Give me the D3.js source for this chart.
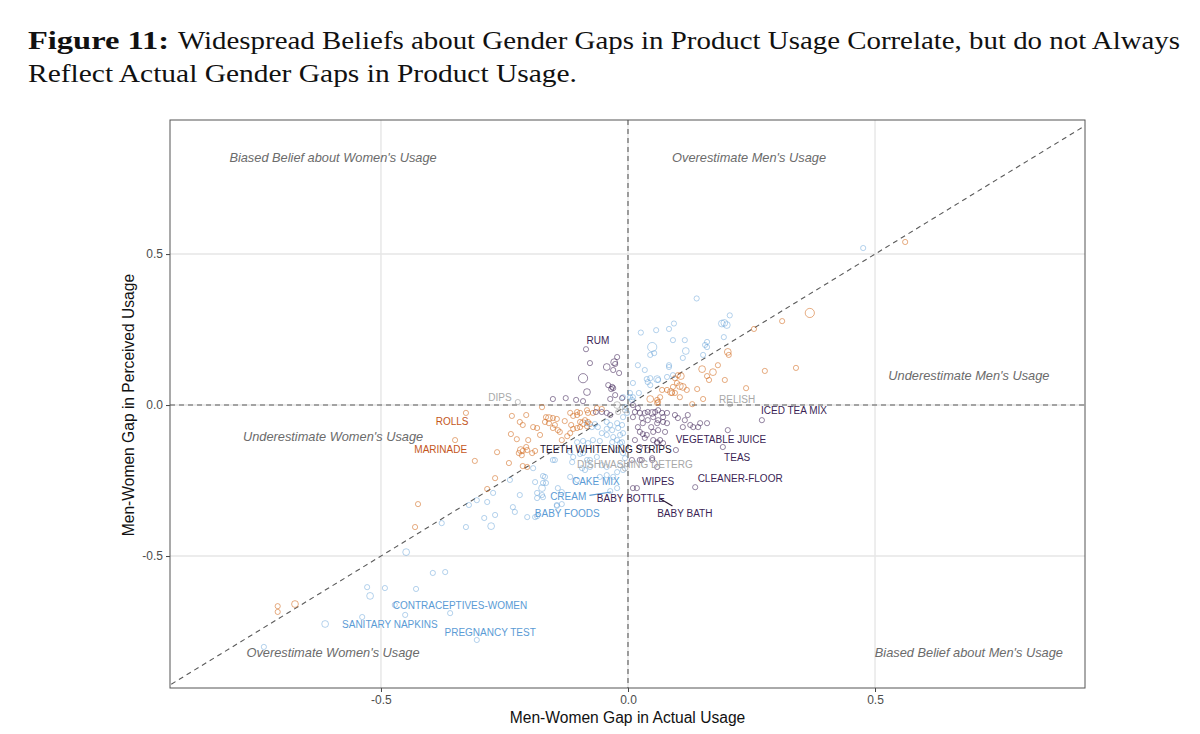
<!DOCTYPE html>
<html>
<head>
<meta charset="utf-8">
<script src="https://cdn.jsdelivr.net/npm/d3@7"></script>
<style>
  body { margin: 0; background: #fff; }
  svg { display: block; }
</style>
</head>
<body>
<div id="chart"></div>
<script>
// gap values: [actual gap, perceived gap, size class]
var orangePts = [
  [0.561,0.54,1],[0.368,0.305,3],[0.312,0.278,1],[0.255,0.252,1],[0.202,0.176,2],[0.204,0.166,1],
  [0.15,0.119,2],[0.182,0.132,1],[0.172,0.109,2],[0.16,0.096,1],[0.164,0.083,1],[0.196,0.083,1],
  [0.277,0.113,1],[0.34,0.123,1],[0.239,0.056,1],[0.14,0.053,1],[0.107,0.096,2],[0.099,0.073,1],
  [0.105,0.063,2],[0.091,0.06,1],[0.069,0.05,1],[0.087,0.043,2],[0.089,0.04,1],[0.045,0.02,2],
  [0.152,0.02,1],[0.061,0.01,1],[0.059,0.017,1],[0.065,0.026,1],[0.079,0.05,1],[0.095,0.089,1],
  [0.101,0.099,1],[0.111,0.06,2],[0.119,0.05,1],[0.095,0.04,1],[0.105,0.026,1],[0.13,0.003,1],
  [0.059,0.007,1],
  [-0.328,-0.026,1],[-0.35,-0.116,1],[-0.31,-0.185,1],[-0.265,-0.156,1],[-0.269,-0.242,1],
  [-0.285,-0.278,1],[-0.425,-0.328,1],[-0.431,-0.404,1],[-0.241,-0.192,1],[-0.235,-0.036,1],
  [-0.219,-0.056,1],[-0.213,-0.066,1],[-0.206,-0.033,1],[-0.237,-0.096,1],[-0.225,-0.113,1],
  [-0.202,-0.116,1],[-0.221,-0.159,1],[-0.217,-0.149,2],[-0.213,-0.152,1],[-0.204,-0.149,1],
  [-0.206,-0.139,1],[-0.215,-0.166,1],[-0.194,-0.159,1],[-0.188,-0.152,1],[-0.192,-0.073,1],
  [-0.184,-0.076,1],[-0.174,-0.007,1],[-0.166,-0.04,1],[-0.16,-0.043,2],[-0.152,-0.043,1],
  [-0.168,-0.056,1],[-0.16,-0.06,1],[-0.152,-0.076,1],[-0.144,-0.046,1],[-0.213,-0.202,1],
  [-0.204,-0.205,1],[-0.128,-0.053,1],[-0.117,-0.026,1],[-0.111,-0.036,1],[-0.103,-0.023,1],
  [-0.097,-0.026,1],[-0.103,-0.033,1],[-0.083,-0.017,1],[-0.081,-0.026,1],[-0.071,-0.026,1],
  [-0.063,-0.01,1],[-0.053,-0.013,1],[-0.097,-0.056,1],[-0.091,-0.06,2],[-0.087,-0.05,1],
  [-0.081,-0.056,1],[-0.083,-0.07,1],[-0.077,-0.063,1],[-0.097,-0.073,1],[-0.103,-0.076,1],
  [-0.117,-0.093,1],[-0.123,-0.103,1],[-0.134,-0.116,1],[-0.115,-0.066,1],[-0.111,-0.079,1],
  [-0.142,-0.083,1],[-0.138,-0.089,1],[-0.148,-0.066,1],[-0.178,-0.099,1],
  [-0.709,-0.666,1],[-0.709,-0.685,1],[-0.674,-0.659,2]
];
var bluePts = [
  [0.476,0.52,1],[0.139,0.353,1],[0.206,0.297,1],[0.19,0.27,2],[0.195,0.272,2],[0.2,0.265,2],
  [0.093,0.27,1],[0.026,0.24,1],[0.057,0.248,1],[0.083,0.252,1],[0.049,0.192,3],[0.053,0.172,1],
  [0.091,0.215,1],[0.115,0.215,1],[0.117,0.179,2],[0.16,0.209,1],[0.16,0.192,1],[0.152,0.166,1],
  [0.194,0.225,1],[0.02,0.132,1],[0.034,0.116,1],[0.083,0.132,1],[0.083,0.126,1],[0.038,0.086,1],
  [0.04,0.076,1],[0.059,0.086,2],[0.01,0.073,1],[0.045,0.066,1],[0.079,0.093,1],[0.022,0.04,1],
  [0.01,0.026,1],[0.045,0.166,1],[0.045,0.089,1],[0.061,0.083,1],[0.091,0.099,1],[0.111,0.156,1],
  [0.156,0.199,1],[0.004,0.04,1],[0.008,0.017,1],[-0.01,0.026,1],[0.004,0.026,1],
  [-0.006,-0.007,1],[-0.002,-0.026,1],[-0.01,-0.04,1],[-0.083,-0.06,1],[-0.073,-0.073,1],
  [-0.067,-0.063,1],[-0.061,-0.073,1],[-0.043,-0.056,1],[-0.036,-0.066,1],[-0.043,-0.079,1],
  [-0.032,-0.083,1],[-0.022,-0.06,1],[-0.02,-0.076,1],[-0.012,-0.066,1],[-0.053,-0.093,1],
  [-0.043,-0.099,1],[-0.03,-0.106,1],[-0.016,-0.099,1],[-0.01,-0.093,1],[-0.022,-0.116,1],
  [-0.032,-0.123,1],[-0.012,-0.123,1],[-0.103,-0.123,1],[-0.091,-0.119,1],[-0.081,-0.126,1],
  [-0.071,-0.116,1],[-0.057,-0.119,1],[-0.117,-0.156,1],[-0.111,-0.172,1],[-0.097,-0.162,1],
  [-0.083,-0.182,1],[-0.113,-0.189,1],[-0.093,-0.209,1],[-0.087,-0.215,1],[-0.077,-0.205,1],
  [-0.053,-0.199,1],[-0.043,-0.205,1],[-0.016,-0.199,1],[-0.022,-0.222,1],[-0.01,-0.215,1],
  [-0.057,-0.238,1],[-0.043,-0.232,1],[-0.03,-0.238,1],[-0.117,-0.238,1],[-0.103,-0.248,1],
  [-0.148,-0.182,1],[-0.142,-0.275,1],[-0.134,-0.288,1],[-0.174,-0.298,1],[-0.219,-0.298,1],
  [-0.022,-0.275,1],[-0.036,-0.285,1],[-0.144,-0.334,1],[-0.134,-0.328,1],[-0.188,-0.371,1],
  [-0.184,-0.308,1],[-0.016,-0.126,1],[-0.022,-0.149,1],[-0.01,-0.159,1],[-0.006,-0.176,1],
  [-0.091,-0.159,1],[-0.077,-0.182,1],[-0.063,-0.172,1],[-0.188,-0.255,1],[-0.172,-0.258,1],
  [-0.168,-0.238,1],[-0.184,-0.291,1],[-0.172,-0.305,1],[-0.233,-0.338,1],[-0.229,-0.354,1],
  [-0.204,-0.371,1],[-0.192,-0.209,1],[-0.172,-0.235,1],[-0.174,-0.275,2],[-0.166,-0.258,1],
  [-0.239,-0.248,1],[-0.273,-0.291,1],[-0.285,-0.321,1],[-0.306,-0.315,1],[-0.322,-0.331,1],
  [-0.291,-0.374,1],[-0.269,-0.364,1],[-0.277,-0.401,2],[-0.328,-0.404,1],[-0.377,-0.391,1],
  [-0.152,-0.182,1],[-0.184,-0.368,1],[-0.144,-0.331,1],[-0.449,-0.487,2],[-0.395,-0.556,1],
  [-0.37,-0.553,1],[-0.528,-0.603,1],[-0.492,-0.606,1],[-0.429,-0.609,1],[-0.522,-0.632,2],
  [-0.472,-0.662,1],[-0.538,-0.702,1],[-0.451,-0.695,1],[-0.36,-0.689,1],[-0.613,-0.725,2],
  [-0.306,-0.778,1],[-0.737,-0.801,1]
];
var purplePts = [
  [-0.085,0.185,1],[-0.077,0.139,1],[-0.022,0.159,1],[-0.028,0.142,2],[-0.026,0.136,1],
  [-0.043,0.126,2],[-0.03,0.116,1],[-0.018,0.106,1],[-0.091,0.089,3],[-0.04,0.066,1],
  [-0.032,0.06,1],[-0.034,0.053,1],[-0.03,0.056,1],[-0.083,0.043,2],[-0.036,0.02,1],
  [-0.026,0.033,1],[-0.152,0.02,1],[-0.126,0.023,1],[-0.105,0.017,1],[-0.091,0.013,1],
  [-0.012,0.023,1],[-0.043,-0.026,1],[-0.036,-0.033,1],[-0.053,-0.023,1],[-0.065,-0.023,1],
  [0.01,0,1],[0.02,-0.01,1],[0.014,-0.023,1],[0.024,-0.026,1],[0.01,-0.04,1],[0.028,-0.043,1],
  [0.034,-0.026,1],[0.04,-0.023,1],[0.049,-0.026,2],[0.051,-0.04,1],[0.055,-0.023,1],
  [0.061,-0.017,1],[0.069,-0.026,1],[0.071,-0.04,1],[0.079,-0.026,1],[0.061,-0.05,1],
  [0.071,-0.056,1],[0.059,-0.06,1],[0.079,-0.06,1],[0.04,-0.05,1],[0.03,-0.06,1],
  [0.047,-0.073,1],[0.02,-0.073,1],[0.024,-0.089,1],[0.03,-0.096,1],[0.038,-0.099,1],
  [0.051,-0.089,1],[0.061,-0.083,1],[0.075,-0.089,1],[0.014,-0.116,1],[0.034,-0.109,1],
  [0.051,-0.116,1],[0.059,-0.123,1],[0.065,-0.116,1],[0.071,-0.126,1],[0.059,-0.126,1],
  [0.024,-0.139,1],[0.04,-0.149,1],[0.095,-0.033,1],[0.101,-0.043,1],[0.115,-0.05,1],
  [0.121,-0.033,1],[0.126,-0.066,1],[0.132,-0.073,1],[0.146,-0.06,1],[0.16,-0.06,1],
  [0.111,-0.073,1],[0.142,-0.073,1],[0.097,-0.149,1],[0.202,-0.083,1],[0.192,-0.139,1],
  [0.271,-0.05,1],[0.136,-0.272,1],[0.01,-0.275,1],[0.018,-0.275,1],[0.008,-0.182,1],
  [0.024,-0.182,1],[0.049,-0.182,1],[0.028,-0.182,1],[0.049,-0.176,1],[0.059,-0.205,1]
];
var greyPts = [
  [-0.223,0.01,1],[-0.022,0,2],[-0.012,-0.007,1],[-0.006,-0.017,1],[-0.02,-0.023,1],
  [0.206,0.003,1],[-0.006,-0.21,1]
];

var xTicks = [-0.5, 0, 0.5];
var yTicks = [-0.5, 0, 0.5];

// product labels: [text, x, y, group]
var productLabels = [
  ["RUM", -0.061, 0.215, "purple"],
  ["DIPS", -0.259, 0.026, "grey"],
  ["RELISH", 0.221, 0.02, "grey"],
  ["ICED TEA MIX", 0.336, -0.017, "purple"],
  ["ROLLS", -0.356, -0.053, "orange"],
  ["MARINADE", -0.379, -0.146, "orange"],
  ["VEGETABLE JUICE", 0.188, -0.113, "purple"],
  ["TEETH WHITENING STRIPS", -0.045, -0.146, "dark"],
  ["TEAS", 0.221, -0.172, "purple"],
  ["DISHWASHING DETERG", 0.014, -0.195, "grey"],
  ["CLEANER-FLOOR", 0.227, -0.242, "purple"],
  ["CAKE MIX", -0.065, -0.252, "blue"],
  ["WIPES", 0.061, -0.252, "purple"],
  ["CREAM", -0.121, -0.301, "blue"],
  ["BABY BOTTLE", 0.006, -0.308, "purple"],
  ["BABY FOODS", -0.123, -0.358, "blue"],
  ["BABY BATH", 0.115, -0.358, "purple"],
  ["CONTRACEPTIVES-WOMEN", -0.34, -0.662, "blue"],
  ["SANITARY NAPKINS", -0.482, -0.728, "blue"],
  ["PREGNANCY TEST", -0.279, -0.752, "blue"]
];
// label leader segments: [x1, y1, x2, y2, group]
var leaders = [
  [-0.078, -0.299, -0.034, -0.288, "blue"],
  [0.065, -0.31, 0.09, -0.334, "dark"]
];

var quadrantNotes = [
  ["Biased Belief about Women's Usage", -0.597, 0.821],
  ["Overestimate Men's Usage", 0.245, 0.821],
  ["Underestimate Men's Usage", 0.69, 0.099],
  ["Underestimate Women's Usage", -0.597, -0.103],
  ["Overestimate Women's Usage", -0.597, -0.821],
  ["Biased Belief about Men's Usage", 0.69, -0.821]
];

var pointColor = {orange: "#d2691e", blue: "#5b9bd5", purple: "#3f2458", grey: "#9a9a9a"};
var labelColor = {orange: "#c4561c", blue: "#5b9bd5", purple: "#3b1f55", grey: "#a8a8a8", dark: "#24142f"};

var width = 1200, height = 734;
var svg = d3.select("#chart").append("svg")
    .attr("width", width)
    .attr("height", height);

// title
var title = svg.append("g")
    .attr("font-family", "'Liberation Serif', 'Times New Roman', serif")
    .attr("font-size", 25)
    .attr("fill", "#111");
title.append("text").attr("x", 28).attr("y", 49)
    .attr("font-weight", "bold")
    .attr("textLength", 141).attr("lengthAdjust", "spacingAndGlyphs")
    .text("Figure 11:");
title.append("text").attr("x", 178).attr("y", 49)
    .attr("textLength", 1002).attr("lengthAdjust", "spacingAndGlyphs")
    .text("Widespread Beliefs about Gender Gaps in Product Usage Correlate, but do not Always");
title.append("text").attr("x", 28).attr("y", 82)
    .attr("textLength", 549).attr("lengthAdjust", "spacingAndGlyphs")
    .text("Reflect Actual Gender Gaps in Product Usage.");

var pLeft = 170, pRight = 1085, pTop = 120, pBottom = 688;
var x = d3.scaleLinear().domain([-0.927, 0.925]).range([pLeft, pRight]);
var y = d3.scaleLinear().domain([-0.937, 0.944]).range([pBottom, pTop]);
var r = d3.scaleOrdinal().domain([1, 2, 3]).range([2.6, 3.4, 4.6]);

svg.append("clipPath").attr("id", "panel")
  .append("rect").attr("x", pLeft).attr("y", pTop)
    .attr("width", pRight - pLeft).attr("height", pBottom - pTop);

// grid
var grid = svg.append("g");
grid.selectAll(".gx").data(xTicks).enter().append("line")
    .attr("x1", d => x(d)).attr("x2", d => x(d))
    .attr("y1", pTop).attr("y2", pBottom)
    .attr("stroke", "#e6e6e6").attr("stroke-width", 1.4);
grid.selectAll(".gy").data(yTicks).enter().append("line")
    .attr("x1", pLeft).attr("x2", pRight)
    .attr("y1", d => y(d)).attr("y2", d => y(d))
    .attr("stroke", "#e6e6e6").attr("stroke-width", 1.4);

// reference lines
var refs = svg.append("g").attr("clip-path", "url(#panel)")
    .attr("stroke", "#5a5a5a").attr("stroke-width", 1.1)
    .attr("stroke-dasharray", "5,4").attr("fill", "none");
refs.append("line").attr("x1", x(0)).attr("x2", x(0)).attr("y1", pTop).attr("y2", pBottom);
refs.append("line").attr("x1", pLeft).attr("x2", pRight).attr("y1", y(0)).attr("y2", y(0));
refs.append("line")
    .attr("x1", x(-0.94)).attr("y1", y(-0.94))
    .attr("x2", x(0.94)).attr("y2", y(0.94));

// points
var pts = svg.append("g").attr("clip-path", "url(#panel)").attr("fill", "none");
function drawGroup(data, key, op) {
  pts.selectAll(".p-" + key).data(data).enter().append("circle")
      .attr("class", "p-" + key)
      .attr("cx", d => x(d[0]))
      .attr("cy", d => y(d[1]))
      .attr("r", d => r(d[2]))
      .attr("stroke", pointColor[key])
      .attr("stroke-opacity", op)
      .attr("stroke-width", 1);
}
drawGroup(orangePts, "orange", 0.55);
drawGroup(bluePts, "blue", 0.45);
drawGroup(purplePts, "purple", 0.55);
drawGroup(greyPts, "grey", 0.6);

// leaders and labels
svg.append("g").selectAll("line").data(leaders).enter().append("line")
    .attr("x1", d => x(d[0])).attr("y1", d => y(d[1]))
    .attr("x2", d => x(d[2])).attr("y2", d => y(d[3]))
    .attr("stroke", d => labelColor[d[4]]).attr("stroke-width", 1.2);

svg.append("g")
    .attr("font-family", "'Liberation Sans', Arial, sans-serif")
    .attr("font-size", 10)
    .attr("text-anchor", "middle")
  .selectAll("text").data(productLabels).enter().append("text")
    .attr("x", d => x(d[1]))
    .attr("y", d => y(d[2]) + 3.6)
    .attr("fill", d => labelColor[d[3]])
    .text(d => d[0]);

svg.append("g")
    .attr("font-family", "'Liberation Sans', Arial, sans-serif")
    .attr("font-size", 12.8)
    .attr("font-style", "italic")
    .attr("fill", "#6b6b6b")
    .attr("text-anchor", "middle")
  .selectAll("text").data(quadrantNotes).enter().append("text")
    .attr("x", d => x(d[1]))
    .attr("y", d => y(d[2]) + 4.5)
    .text(d => d[0]);

// axes
var fmt = d => d.toFixed(1);
var xAxis = svg.append("g").attr("transform", "translate(0," + pBottom + ")")
    .call(d3.axisBottom(x).tickValues(xTicks).tickFormat(fmt).tickSize(4).tickPadding(3));
var yAxis = svg.append("g").attr("transform", "translate(" + pLeft + ",0)")
    .call(d3.axisLeft(y).tickValues(yTicks).tickFormat(fmt).tickSize(4).tickPadding(3));
[xAxis, yAxis].forEach(function(a) {
  a.select(".domain").remove();
  a.selectAll(".tick line").attr("stroke", "#444");
  a.selectAll(".tick text")
      .attr("fill", "#4d4d4d")
      .attr("font-size", 12)
      .attr("font-family", "'Liberation Sans', Arial, sans-serif");
});

// panel border
svg.append("rect")
    .attr("x", pLeft).attr("y", pTop)
    .attr("width", pRight - pLeft).attr("height", pBottom - pTop)
    .attr("fill", "none").attr("stroke", "#555").attr("stroke-width", 1);

// axis titles
svg.append("text")
    .attr("x", (pLeft + pRight) / 2).attr("y", 723)
    .attr("text-anchor", "middle")
    .attr("font-family", "'Liberation Sans', Arial, sans-serif")
    .attr("font-size", 15.6).attr("fill", "#111")
    .text("Men-Women Gap in Actual Usage");
svg.append("text")
    .attr("transform", "translate(134," + y(0) + ") rotate(-90)")
    .attr("text-anchor", "middle")
    .attr("font-family", "'Liberation Sans', Arial, sans-serif")
    .attr("font-size", 15.6).attr("fill", "#111")
    .text("Men-Women Gap in Perceived Usage");
</script>
</body>
</html>
